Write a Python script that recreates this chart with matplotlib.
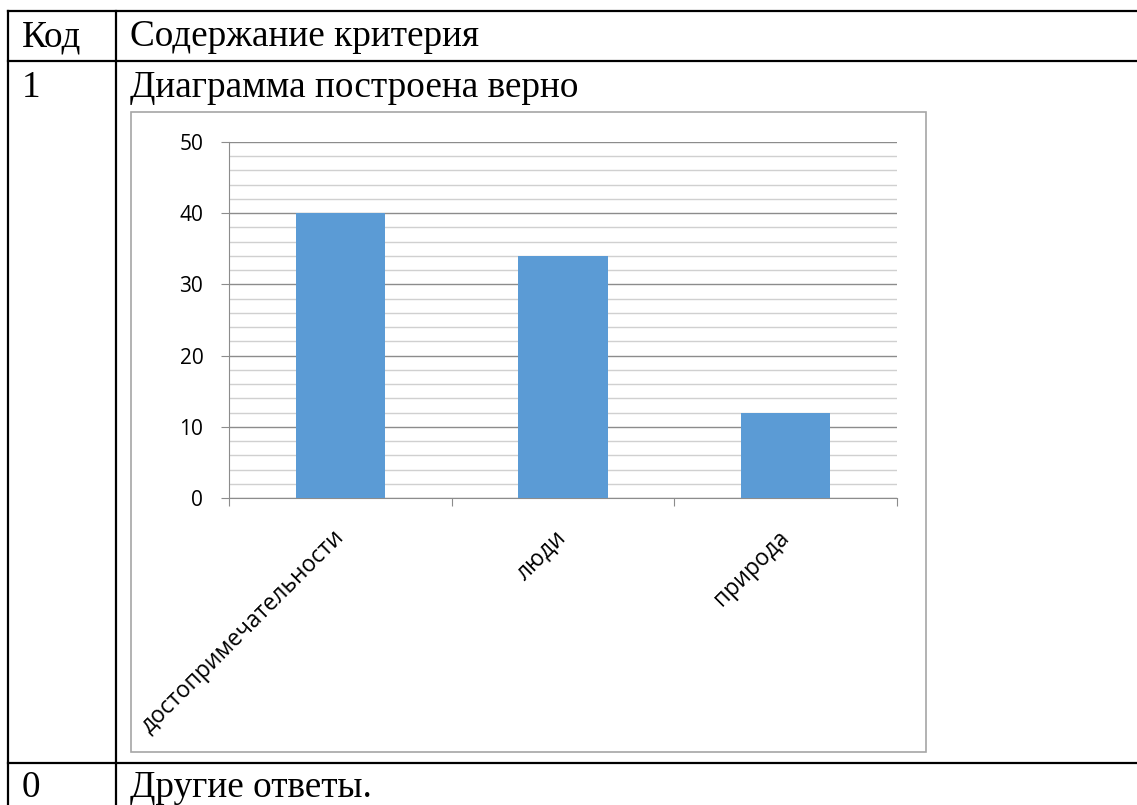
import matplotlib
matplotlib.use("Agg")
import matplotlib.pyplot as plt
from matplotlib.lines import Line2D
from matplotlib.patches import Rectangle
from matplotlib.ticker import MultipleLocator, FixedLocator

categories = ["достопримечательности", "люди", "природа"]
values = [40, 34, 12]
y_ticks = [0, 10, 20, 30, 40, 50]

header_code = "Код"
header_content = "Содержание критерия"
row1_code = "1"
row1_text = "Диаграмма построена верно"
row0_code = "0"
row0_text = "Другие ответы."

W, H = 1137, 805
fig = plt.figure(figsize=(W / 100, H / 100), dpi=100)
bg = fig.add_axes([0, 0, 1, 1])
bg.set_xlim(0, W)
bg.set_ylim(H, 0)
bg.axis("off")

lw = 1.6
for y in [11, 61, 763]:
    bg.add_line(Line2D([8, W], [y, y], color="black", lw=lw))
for x in [8, 116]:
    bg.add_line(Line2D([x, x], [11, H], color="black", lw=lw))

serif = "Liberation Serif"
fs = 26.8
bg.text(22, 46, header_code, fontsize=fs, family=serif, va="baseline", ha="left")
bg.text(130, 46, header_content, fontsize=fs, family=serif, va="baseline", ha="left")
bg.text(22, 97, row1_code, fontsize=fs, family=serif, va="baseline", ha="left")
bg.text(130, 97, row1_text, fontsize=fs, family=serif, va="baseline", ha="left")
bg.text(22, 797, row0_code, fontsize=fs, family=serif, va="baseline", ha="left")
bg.text(130, 797, row0_text, fontsize=fs, family=serif, va="baseline", ha="left")

# chart frame
bg.add_patch(Rectangle((131, 112), 926 - 131, 752 - 112, fill=False,
                       edgecolor="#A6A6A6", lw=1.2))

x0, x1, y0, y1 = 229, 897, 142, 498
ax = fig.add_axes([x0 / W, (H - y1) / H, (x1 - x0) / W, (y1 - y0) / H])
ax.set_xlim(-0.5, len(categories) - 0.5)
ax.set_ylim(0, 50)
ax.bar(range(len(categories)), values, width=0.4, color="#5B9BD5", zorder=3)

ax.yaxis.set_major_locator(FixedLocator(y_ticks))
ax.yaxis.set_minor_locator(MultipleLocator(2))
ax.grid(which="major", axis="y", color="#8C8C8C", lw=1.0, zorder=0)
ax.grid(which="minor", axis="y", color="#D0D0D0", lw=1.0, zorder=0)
for s in ["top", "right"]:
    ax.spines[s].set_visible(False)
ax.spines["left"].set_color("#8C8C8C")
ax.spines["bottom"].set_color("#8C8C8C")
ax.tick_params(axis="y", which="major", length=6, color="#8C8C8C", labelsize=15,
               pad=12.5)
ax.tick_params(axis="y", which="minor", length=0)

ax.set_xticks([i - 0.5 for i in range(len(categories) + 1)])
ax.set_xticklabels([])
ax.set_xticks(range(len(categories)), minor=True)
ax.set_xticklabels(categories, minor=True, rotation=45, ha="right", va="center",
                   rotation_mode="anchor", fontsize=16.5)
ax.tick_params(axis="x", which="major", length=6, color="#8C8C8C")
ax.tick_params(axis="x", which="minor", length=0, pad=26)
for lab in ax.get_yticklabels() + ax.get_xticklabels(minor=True):
    lab.set_family("Open Sans")

fig.savefig("out.png", dpi=100)
